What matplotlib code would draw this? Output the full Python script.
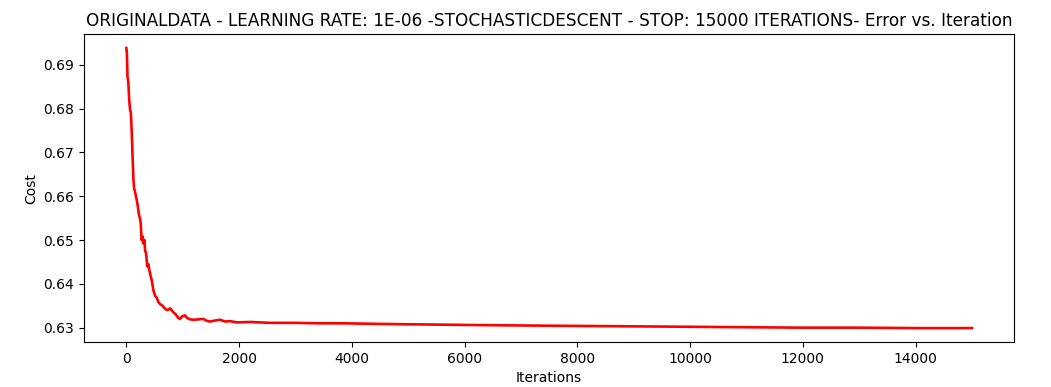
import matplotlib
matplotlib.use('Agg')
import matplotlib.pyplot as plt

# values (iteration, cost)
iterations = [0, 10, 20, 35, 50, 66, 80, 96, 110, 125, 137, 150, 170, 184, 200,
              220, 240, 255, 270, 290, 302, 320, 332, 350, 370, 390, 408, 430,
              451, 480, 509, 540, 570, 598, 640, 687, 730, 780, 834, 880, 920,
              953, 990, 1041, 1080, 1130, 1200, 1280, 1366, 1420, 1485, 1560,
              1663, 1750, 1840, 1958, 2200, 2550, 3000, 3378, 3800, 4300, 4800,
              5500, 6200, 7000, 8000, 9000, 10000, 11000, 12000, 13000, 14000,
              15000]
cost = [0.6938, 0.6925, 0.6873, 0.6860, 0.6820, 0.6797, 0.6790, 0.6744, 0.6690,
        0.6640, 0.6618, 0.6612, 0.6600, 0.6591, 0.6580, 0.6560, 0.6550, 0.6538,
        0.6500, 0.6508, 0.6492, 0.6500, 0.6476, 0.6470, 0.6440, 0.6445, 0.6431,
        0.6418, 0.6408, 0.6385, 0.6373, 0.6368, 0.6358, 0.6354, 0.6350, 0.6343,
        0.6340, 0.6344, 0.6335, 0.6330, 0.6322, 0.6320, 0.6326, 0.6328, 0.6322,
        0.6319, 0.6318, 0.6319, 0.6320, 0.6316, 0.6314, 0.6316, 0.6318, 0.6314,
        0.6315, 0.6312, 0.6313, 0.6311, 0.6311, 0.6310, 0.6310, 0.6309, 0.6308,
        0.6307, 0.6306, 0.6305, 0.6304, 0.6303, 0.6302, 0.6301, 0.6300, 0.6300,
        0.6299, 0.6299]

title = ('ORIGINALDATA - LEARNING RATE: 1E-06 -STOCHASTICDESCENT - STOP: '
         '15000 ITERATIONS- Error vs. Iteration')

fig, ax = plt.subplots(figsize=(10.51, 3.87), dpi=100)
ax.plot(iterations, cost, color='red', lw=1.9)
ax.set_title(title, fontsize=12.15)
ax.set_xlabel('Iterations')
ax.set_ylabel('Cost')
fig.subplots_adjust(left=0.08, right=0.965, top=0.912, bottom=0.116)
fig.savefig('out.png')
